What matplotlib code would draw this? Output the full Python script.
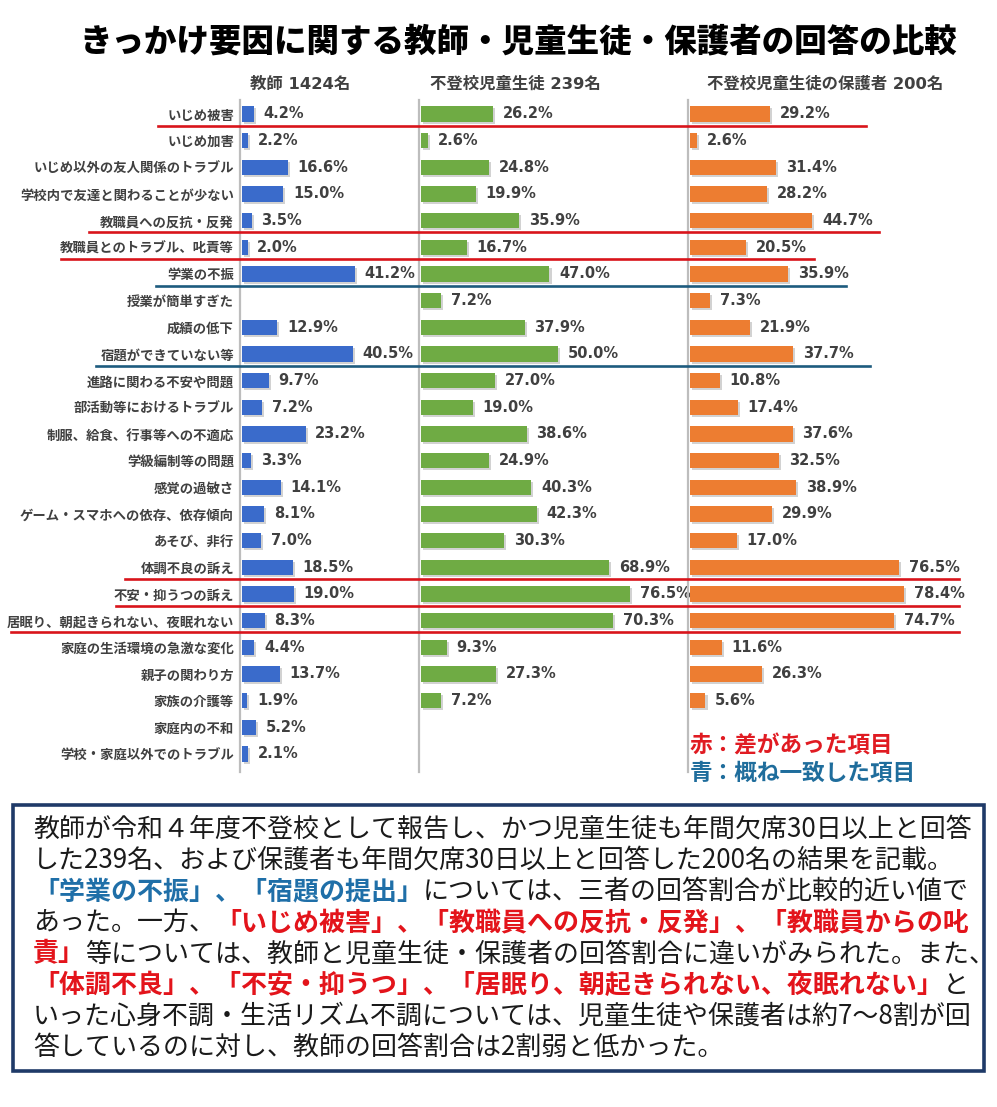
import numpy as np
import matplotlib
matplotlib.use("Agg")
import matplotlib.pyplot as plt
import matplotlib.patheffects as pe
from matplotlib.lines import Line2D
from matplotlib.patches import Rectangle
from matplotlib.transforms import blended_transform_factory

plt.rcParams['font.family'] = ['Noto Sans CJK JP', 'DejaVu Sans']

# ---------------- data ----------------
categories = [
    "いじめ被害", "いじめ加害", "いじめ以外の友人関係のトラブル", "学校内で友達と関わることが少ない",
    "教職員への反抗・反発", "教職員とのトラブル、叱責等", "学業の不振", "授業が簡単すぎた",
    "成績の低下", "宿題ができていない等", "進路に関わる不安や問題", "部活動等におけるトラブル",
    "制服、給食、行事等への不適応", "学級編制等の問題", "感覚の過敏さ", "ゲーム・スマホへの依存、依存傾向",
    "あそび、非行", "体調不良の訴え", "不安・抑うつの訴え", "居眠り、朝起きられない、夜眠れない",
    "家庭の生活環境の急激な変化", "親子の関わり方", "家族の介護等", "家庭内の不和", "学校・家庭以外でのトラブル",
]
nan = np.nan
teacher = [4.2, 2.2, 16.6, 15.0, 3.5, 2.0, 41.2, nan, 12.9, 40.5, 9.7, 7.2, 23.2,
           3.3, 14.1, 8.1, 7.0, 18.5, 19.0, 8.3, 4.4, 13.7, 1.9, 5.2, 2.1]
students = [26.2, 2.6, 24.8, 19.9, 35.9, 16.7, 47.0, 7.2, 37.9, 50.0, 27.0, 19.0, 38.6,
            24.9, 40.3, 42.3, 30.3, 68.9, 76.5, 70.3, 9.3, 27.3, 7.2, nan, nan]
parents = [29.2, 2.6, 31.4, 28.2, 44.7, 20.5, 35.9, 7.3, 21.9, 37.7, 10.8, 17.4, 37.6,
           32.5, 38.9, 29.9, 17.0, 76.5, 78.4, 74.7, 11.6, 26.3, 5.6, nan, nan]
headers = ["教師 1424名", "不登校児童生徒 239名", "不登校児童生徒の保護者 200名"]
title = "きっかけ要因に関する教師・児童生徒・保護者の回答の比較"
red_rows = [0, 4, 5, 17, 18, 19]
blue_rows = [6, 9]
legend_red = "赤：差があった項目"
legend_blue = "青：概ね一致した項目"

# ---------------- layout ----------------
W, H = 997, 1107
fig = plt.figure(figsize=(W / 100, H / 100), dpi=100)
fig.patch.set_facecolor('white')

def fx(px):
    return px / W

def fy(py):
    return 1 - py / H

TXT = '#404040'
BLUE = '#3A6BCB'
GREEN = '#6FAB44'
ORANGE = '#ED7D31'
RED = '#D9141B'
TEAL = '#1D5B7E'

scale = 2.73  # px per percent
top_px, bot_px = 100, 772
n = len(categories)
pitch = (754 - 114) / (n - 1)
y_top = -(114 - top_px) / pitch
y_bot = (n - 1) + (bot_px - 754) / pitch

panels = [(240, 419, teacher, BLUE), (419, 688, students, GREEN), (688, 962, parents, ORANGE)]
header_x = [300, 515, 825]
axes = []
ypos = np.arange(n)
shadow = [pe.withSimplePatchShadow(offset=(1.5, -1.5), shadow_rgbFace='#808080', alpha=0.35)]
for (l, r, vals, col) in panels:
    ax = fig.add_axes([fx(l), fy(bot_px), (r - l) / W, (bot_px - top_px) / H])
    ax.set_xlim(-0.8, (r - l) / scale - 0.8)
    ax.set_ylim(y_bot, y_top)
    v = np.array(vals, dtype=float)
    bars = ax.barh(ypos, np.nan_to_num(v), height=0.58, color=col, zorder=3)
    for b, val in zip(bars, v):
        if np.isnan(val):
            b.set_visible(False)
        else:
            b.set_path_effects(shadow)
            ax.annotate(f"{val:.1f}%", xy=(val, b.get_y() + b.get_height() / 2),
                        xytext=(7, 0), textcoords='offset points', va='center', ha='left',
                        fontsize=10.5, fontweight='bold', color=TXT, family='DejaVu Sans',
                        annotation_clip=False)
    for s in ['top', 'right', 'bottom']:
        ax.spines[s].set_visible(False)
    ax.spines['left'].set_color('#BDBDBD')
    ax.spines['left'].set_linewidth(1.6)
    ax.set_xticks([])
    ax.set_yticks([])
    ax.set_facecolor('none')
    axes.append(ax)

ax1 = axes[0]
ax1.set_yticks(ypos)
ax1.set_yticklabels(categories, fontsize=9.6, fontweight='bold', color=TXT)
ax1.tick_params(axis='y', length=0, pad=4.3)

for hx, ht in zip(header_x, headers):
    fig.text(fx(hx), fy(84), ht, ha='center', va='center', fontsize=11.8,
             fontweight='bold', color=TXT, family=['DejaVu Sans', 'Noto Sans CJK JP'])

fig.text(fx(518), fy(42), title, ha='center', va='center', fontsize=23.4,
         fontweight='heavy', color='black')

# underline markers
trans = blended_transform_factory(fig.transFigure, ax1.transData)
line_extent = {0: (158, 866), 4: (89, 879), 5: (61, 814), 6: (156, 846),
               9: (96, 870), 17: (125, 959), 18: (116, 959), 19: (11, 959)}
for r in red_rows + blue_rows:
    x0, x1 = line_extent[r]
    c = RED if r in red_rows else TEAL
    fig.add_artist(Line2D([fx(x0), fx(x1)], [r + 0.44, r + 0.44], transform=trans,
                          color=c, lw=1.9, zorder=10))

fig.text(fx(690), fy(746), legend_red, ha='left', va='center', fontsize=16.3,
         fontweight='bold', color='#E01B22')
fig.text(fx(690), fy(773), legend_blue, ha='left', va='center', fontsize=16.3,
         fontweight='bold', color='#1F6D9C')

# ---------------- text box ----------------
fig.add_artist(Rectangle((fx(13), fy(1071)), (984 - 13) / W, (1071 - 805) / H,
                         transform=fig.transFigure, facecolor='white',
                         edgecolor='#1F3A68', lw=2.6, zorder=1))

K, B, R = '#1A1A1A', '#1F6FA8', '#E3141B'
lines = [
    [("教師が令和４年度不登校として報告し、かつ児童生徒も年間欠席30日以上と回答", K, 'normal')],
    [("した239名、および保護者も年間欠席30日以上と回答した200名の結果を記載。", K, 'normal')],
    [("「学業の不振」、「宿題の提出」", B, 'bold'), ("については、三者の回答割合が比較的近い値で", K, 'normal')],
    [("あった。一方、", K, 'normal'), ("「いじめ被害」、「教職員への反抗・反発」、「教職員からの叱", R, 'bold')],
    [("責」", R, 'bold'), ("等については、教師と児童生徒・保護者の回答割合に違いがみられた。また、", K, 'normal')],
    [("「体調不良」、「不安・抑うつ」、「居眠り、朝起きられない、夜眠れない」", R, 'bold'), ("と", K, 'normal')],
    [("いった心身不調・生活リズム不調については、児童生徒や保護者は約7～8割が回", K, 'normal')],
    [("答しているのに対し、教師の回答割合は2割弱と低かった。", K, 'normal')],
]
overlay = fig.add_axes([0, 0, 1, 1])
overlay.set_axis_off()
overlay.set_zorder(5)
overlay.patch.set_alpha(0)
fs_body = 18.7
for k, segs in enumerate(lines):
    yk = fy(829 + 31.2 * k)
    prev = None
    for txt, col, wt in segs:
        if prev is None:
            prev = overlay.annotate(txt, xy=(fx(33), yk), xycoords='figure fraction',
                                    ha='left', va='center', fontsize=fs_body, color=col,
                                    fontweight=wt)
        else:
            prev = overlay.annotate(txt, xy=(1, 0.5), xycoords=prev,
                                    ha='left', va='center', fontsize=fs_body, color=col,
                                    fontweight=wt)

fig.savefig("out.png", dpi=100, facecolor='white')
